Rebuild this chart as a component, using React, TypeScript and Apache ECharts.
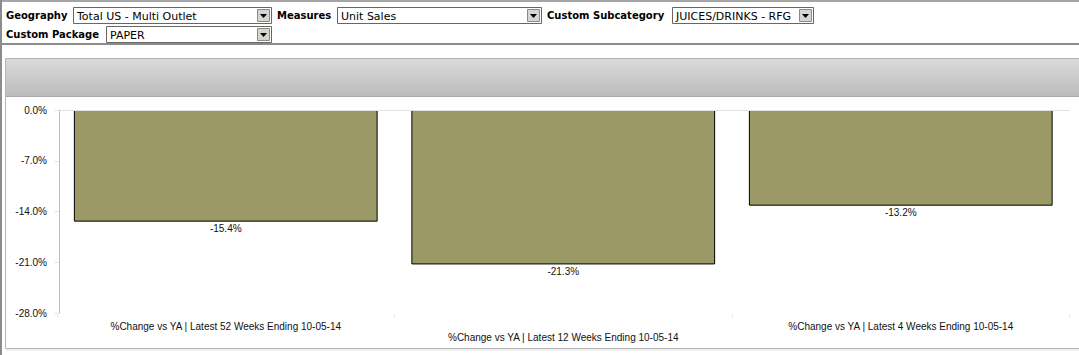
import React, { useEffect, useRef } from 'react';
import * as echarts from 'echarts';

const categories = [
  '%Change vs YA | Latest 52 Weeks Ending 10-05-14',
  '%Change vs YA | Latest 12 Weeks Ending 10-05-14',
  '%Change vs YA | Latest 4 Weeks Ending 10-05-14',
];
const pctChange = [-15.4, -21.3, -13.2];
const yMin = -28;
const yMax = 0;
const yStep = 7;

const filterLabels = ['Geography', 'Measures', 'Custom Subcategory', 'Custom Package'];
const filterValues = ['Total US - Multi Outlet', 'Unit Sales', 'JUICES/DRINKS - RFG', 'PAPER'];

// layout of filter controls: [labelX, selectX, selectWidth, row]
const filterLayout: [number, number, number, number][] = [
  [6, 73, 198, 0],
  [277, 337, 204, 0],
  [547, 672, 141, 0],
  [6, 106, 165, 1],
];

const W = 1079;
const H = 355;

function buildHeader(): any[] {
  const els: any[] = [];
  els.push({ type: 'line', shape: { x1: 0, y1: 1, x2: W, y2: 1 }, style: { stroke: '#a4a4a4', lineWidth: 2 } });
  els.push({ type: 'line', shape: { x1: 1, y1: 0, x2: 1, y2: H }, style: { stroke: '#8c8c8c', lineWidth: 2 } });
  els.push({ type: 'line', shape: { x1: 0, y1: 44, x2: W, y2: 44 }, style: { stroke: '#8c8c8c', lineWidth: 2 } });

  filterLabels.forEach((lab, i) => {
    const [lx, sx, sw, row] = filterLayout[i];
    const y = row === 0 ? 7 : 26;
    const cy = y + 8;
    els.push({
      type: 'text',
      style: { text: lab, x: lx, y: cy, verticalAlign: 'middle', font: 'bold 10px "DejaVu Sans"', fill: '#000' },
    });
    els.push({
      type: 'rect',
      shape: { x: sx + 0.5, y: y + 0.5, width: sw, height: 16 },
      style: { fill: '#fff', stroke: '#666666', lineWidth: 1 },
    });
    els.push({
      type: 'text',
      style: { text: filterValues[i], x: sx + 4, y: cy + 1, verticalAlign: 'middle', font: '11px "DejaVu Sans"', fill: '#000' },
    });
    const bx = sx + sw - 14;
    els.push({
      type: 'rect',
      shape: { x: bx + 0.5, y: y + 2.5, width: 12, height: 12 },
      style: { fill: '#d8d5d0', stroke: '#8a8a8a', lineWidth: 1 },
    });
    const tcx = bx + 6.5;
    const tcy = y + 9;
    els.push({
      type: 'polygon',
      shape: { points: [[tcx - 3.5, tcy - 2], [tcx + 3.5, tcy - 2], [tcx, tcy + 2]] },
      style: { fill: '#000' },
    });
  });

  els.push({
    type: 'rect',
    shape: { x: 5.5, y: 58.5, width: W, height: 290 },
    style: { fill: '#fff', stroke: '#b4b4b4', lineWidth: 1 },
    z: -10,
  });
  els.push({
    type: 'rect',
    shape: { x: 6, y: 59, width: W, height: 37 },
    style: {
      fill: new echarts.graphic.LinearGradient(0, 0, 0, 1, [
        { offset: 0, color: '#dadada' },
        { offset: 1, color: '#bcbcbc' },
      ]),
    },
    z: -9,
  });
  els.push({ type: 'line', shape: { x1: 6, y1: 96.5, x2: W, y2: 96.5 }, style: { stroke: '#a8a8a8', lineWidth: 1 }, z: -8 });
  els.push({ type: 'line', shape: { x1: 6, y1: 350, x2: W, y2: 350 }, style: { stroke: '#e2e2e2', lineWidth: 1 }, z: -8 });
  return els;
}

export default function App() {
  const ref = useRef<HTMLDivElement>(null);

  useEffect(() => {
    if (!ref.current) return;
    const chart = echarts.init(ref.current, undefined, { renderer: 'svg' });
    chart.setOption({
      animation: false,
      backgroundColor: '#fff',
      graphic: { elements: buildHeader() },
      grid: { left: 57, right: 9.5, top: 110, bottom: 42, containLabel: false },
      xAxis: {
        type: 'category',
        data: categories,
        axisLine: { show: false, onZero: false },
        axisTick: { show: true, length: 5, lineStyle: { color: '#ececec' } },
        axisLabel: {
          interval: 0,
          margin: 8,
          fontSize: 10,
          fontFamily: '"Liberation Sans", Arial, sans-serif',
          color: '#111',
          lineHeight: 11,
          formatter: (v: string, i: number) => (i % 2 === 1 ? '\n' + v : v),
        },
      },
      yAxis: {
        type: 'value',
        min: yMin,
        max: yMax,
        interval: yStep,
        offset: -2,
        axisLine: { show: true, lineStyle: { color: '#bdbdbd', width: 1 } },
        axisTick: { show: true, length: 5, lineStyle: { color: '#e6e6e6' } },
        splitLine: { show: false },
        axisLabel: {
          margin: 12,
          fontSize: 10,
          fontFamily: '"Liberation Sans", Arial, sans-serif',
          color: '#111',
          formatter: (v: number) => v.toFixed(1) + '%',
        },
      },
      series: [
        {
          type: 'bar',
          data: pctChange,
          barWidth: '90%',
          itemStyle: { color: '#9b9a66', borderColor: '#000', borderWidth: 1 },
          label: {
            show: true,
            position: 'outside',
            distance: 2,
            fontSize: 10,
            fontFamily: '"Liberation Sans", Arial, sans-serif',
            color: '#111',
            formatter: (p: any) => Number(p.value).toFixed(1) + '%',
          },
          markLine: {
            silent: true,
            symbol: 'none',
            label: { show: false },
            lineStyle: { color: '#e2e2e2', type: 'solid', width: 1 },
            data: [{ yAxis: 0 }],
          },
        },
      ],
    });
    return () => chart.dispose();
  }, []);

  return (
    <div
      ref={ref}
      style={{ position: 'absolute', left: 0, top: 0, width: W, height: H, background: '#fff' }}
    />
  );
}
